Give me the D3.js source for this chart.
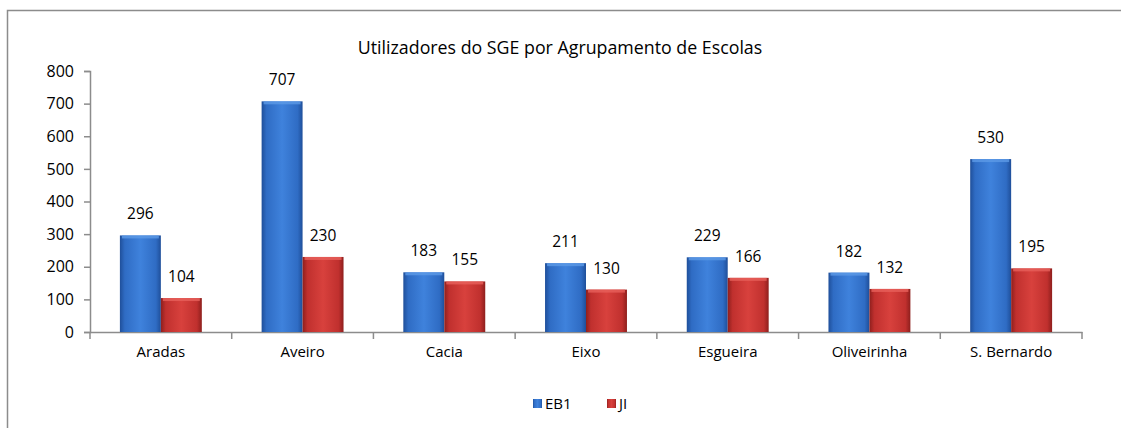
<!DOCTYPE html>
<html><head><meta charset="utf-8">
<script src="https://cdn.jsdelivr.net/npm/d3@7"></script>
<style>html,body{margin:0;padding:0;background:#fff;}svg{display:block;font-family:"Open Sans",sans-serif;}</style>
</head><body>
<svg id="c" width="1121" height="428"></svg>
<script>
const categories = ["Aradas","Aveiro","Cacia","Eixo","Esgueira","Oliveirinha","S. Bernardo"];
const seriesNames = ["EB1","JI"];
const eb1 = [296,707,183,211,229,182,530];
const ji = [104,230,155,130,166,132,195];
const yTicks = [0,100,200,300,400,500,600,700,800];
const title = "Utilizadores do SGE por Agrupamento de Escolas";

const FONT = "'Open Sans',sans-serif";
const svg = d3.select("#c");
const W = 1121, H = 428;
const m = {left:90, right:1082, top:71, bottom:332};

// frame
svg.append("path").attr("d",`M7.5,${H} V10.5 H${W}`).attr("fill","none").attr("stroke","#8c8c8c").attr("stroke-width",1.5);

const defs = svg.append("defs");
function grad(id, dark, mid, light){
  const g = defs.append("linearGradient").attr("id",id).attr("x1","0").attr("x2","1").attr("y1","0").attr("y2","0");
  g.append("stop").attr("offset","0").attr("stop-color",dark);
  g.append("stop").attr("offset","0.12").attr("stop-color",mid);
  g.append("stop").attr("offset","0.5").attr("stop-color",light);
  g.append("stop").attr("offset","0.88").attr("stop-color",mid);
  g.append("stop").attr("offset","1").attr("stop-color",dark);
}
grad("gB","#1f4f9a","#2f6cc4","#3f82dc");
grad("gR","#8e1f1d","#c0302e","#d8413d");
const fills = ["url(#gB)","url(#gR)"];
const tops = ["#5d9ae6","#e7605b"];

const x = d3.scaleBand().domain(categories).range([m.left,m.right]).paddingInner(0).paddingOuter(0);
const xs = d3.scaleBand().domain(seriesNames).range([0,x.bandwidth()]).paddingOuter(0.73).paddingInner(0);
const y = d3.scaleLinear().domain([0,800]).range([m.bottom,m.top]);

svg.append("text").attr("x",560).attr("y",54).attr("text-anchor","middle").attr("font-size",17.8).attr("fill","#000").text(title);

// y axis
const ya = svg.append("g").attr("transform",`translate(${m.left},0)`).call(d3.axisLeft(y).tickValues(yTicks).tickSize(6).tickPadding(10).tickFormat(d3.format("d")));
ya.select(".domain").attr("stroke","#8c8c8c").attr("stroke-width",1.5);
ya.selectAll(".tick line").attr("stroke","#8c8c8c").attr("stroke-width",1.5);
ya.selectAll("text").attr("font-size",16).attr("fill","#000").attr("font-family",FONT);

// x axis
const xa = svg.append("g").attr("transform",`translate(0,${m.bottom})`).call(d3.axisBottom(x).tickSize(0).tickPadding(14));
xa.select(".domain").attr("stroke","#8c8c8c").attr("stroke-width",1.5);
xa.selectAll("text").attr("font-size",15).attr("fill","#000").attr("font-family",FONT);
const bounds = categories.map(c=>x(c)).concat([m.right]);
svg.append("g").selectAll("line").data(bounds).join("line")
  .attr("x1",d=>d).attr("x2",d=>d).attr("y1",m.bottom).attr("y2",m.bottom+7)
  .attr("stroke","#8c8c8c").attr("stroke-width",1.5);

const data = [eb1, ji];
seriesNames.forEach((s,si)=>{
  const g = svg.append("g");
  const vals = data[si];
  g.selectAll("rect.bar").data(categories).join("rect").attr("class","bar")
    .attr("x",(c)=>x(c)+xs(s)).attr("width",xs.bandwidth())
    .attr("y",(c,i)=>y(vals[i])).attr("height",(c,i)=>m.bottom-y(vals[i]))
    .attr("fill",fills[si]);
  g.selectAll("rect.top").data(categories).join("rect").attr("class","top")
    .attr("x",(c)=>x(c)+xs(s)+2).attr("width",xs.bandwidth()-4)
    .attr("y",(c,i)=>y(vals[i])).attr("height",3)
    .attr("fill",tops[si]).attr("opacity",0.8);
  g.selectAll("text").data(categories).join("text")
    .attr("x",(c)=>x(c)+xs(s)+xs.bandwidth()/2)
    .attr("y",(c,i)=>y(vals[i])-16)
    .attr("text-anchor","middle").attr("font-size",15.5).attr("fill","#000")
    .text((c,i)=>vals[i]);
});

// legend
const lg = svg.append("g");
const lx = [533, 607];
seriesNames.forEach((s,i)=>{
  lg.append("rect").attr("x",lx[i]).attr("y",399).attr("width",9).attr("height",9).attr("fill",fills[i]);
  lg.append("text").attr("x",lx[i]+12).attr("y",409).attr("font-size",15).attr("fill","#000").text(s);
});
</script>
</body></html>
